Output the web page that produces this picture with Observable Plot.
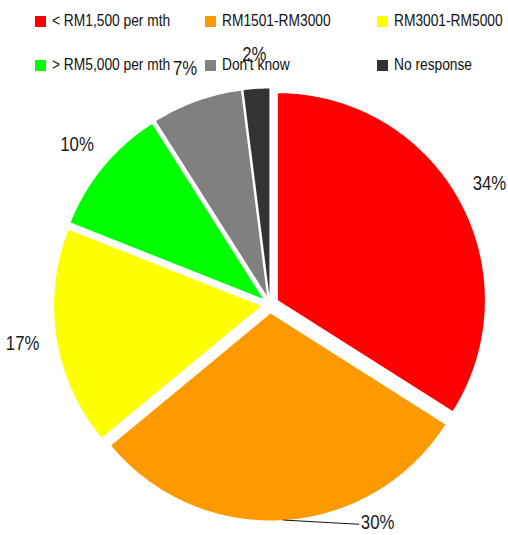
<!DOCTYPE html>
<html>
<head>
<meta charset="utf-8">
<script src="https://cdn.jsdelivr.net/npm/d3@7"></script>
<script src="https://cdn.jsdelivr.net/npm/@observablehq/plot@0.6"></script>
<style>
  html, body { margin: 0; padding: 0; background: #fff; }
  #wrap { position: relative; width: 508px; height: 535px; font-family: "Liberation Sans", Arial, sans-serif; }
  #legend { position: absolute; left: 0; top: 0; width: 508px; height: 80px; }
  .item { position: absolute; display: flex; align-items: center; font-size: 16px; color: #111; white-space: nowrap; }
  .sw { width: 11px; height: 11px; margin-right: 6px; flex: none; }
  .tx { display: inline-block; transform: scaleX(0.86); transform-origin: left center; }
  #chart { position: absolute; left: 0; top: 0; }
</style>
</head>
<body>
<div id="wrap">
  <div id="chart"></div>
  <div id="legend"></div>
</div>
<script>
const categories = ["< RM1,500 per mth", "RM1501-RM3000", "RM3001-RM5000", "> RM5,000 per mth", "Don't know", "No response"];
const values = [34, 30, 17, 10, 7, 2];
const labels = ["34%", "30%", "17%", "10%", "7%", "2%"];
const colors = ["#FF0000", "#FF9900", "#FFFF00", "#00FF00", "#808080", "#333333"];

// layout
const W = 508, H = 535;
const cx = 269.5, cy = 304, R = 207;
const explode = 9 / R;
const labelR = 1.21;
const condense = 0.84;

const total = d3.sum(values);
const slices = [];
let acc = 0;
values.forEach((v, i) => {
  const a0 = acc / total * 2 * Math.PI;
  acc += v;
  const a1 = acc / total * 2 * Math.PI;
  slices.push({cat: categories[i], label: labels[i], a0, a1, mid: (a0 + a1) / 2});
});

const pts = [];
for (const s of slices) {
  const ox = explode * Math.sin(s.mid), oy = -explode * Math.cos(s.mid);
  pts.push({cat: s.cat, x: ox, y: oy});
  const n = Math.max(4, Math.ceil((s.a1 - s.a0) / (Math.PI / 360)));
  for (let k = 0; k <= n; k++) {
    const a = s.a0 + (s.a1 - s.a0) * k / n;
    pts.push({cat: s.cat, x: ox + Math.sin(a), y: oy - Math.cos(a)});
  }
}

// label positions; the bottom slice label is moved aside with a leader line
const moved = {idx: 1, angle: 158 * Math.PI / 180, r: 1.145};
const textMid = slices.filter((s, i) => i !== moved.idx).map(s => ({label: s.label, x: labelR * Math.sin(s.mid), y: -labelR * Math.cos(s.mid)}));
const textSide = [{label: slices[moved.idx].label, x: moved.r * Math.sin(moved.angle) + 0.01, y: -moved.r * Math.cos(moved.angle) - 0.006}];
const ms = slices[moved.idx];
const mox = explode * Math.sin(ms.mid), moy = -explode * Math.cos(ms.mid);
const leader = [
  {x: mox + Math.sin(ms.mid), y: moy - Math.cos(ms.mid)},
  {x: moved.r * Math.sin(moved.angle), y: -moved.r * Math.cos(moved.angle)}
];

const chart = Plot.plot({
  width: W, height: H, margin: 0,
  style: {background: "transparent", fontFamily: '"Liberation Sans", Arial, sans-serif'},
  x: {domain: [-cx / R, (W - cx) / R], range: [0, W], axis: null},
  y: {domain: [-cy / R, (H - cy) / R], range: [0, H], axis: null},
  color: {domain: categories, range: colors},
  marks: [
    Plot.line(pts, {x: "x", y: "y", z: "cat", fill: "cat", stroke: null, curve: "linear-closed"}),
    Plot.line(leader, {x: "x", y: "y", stroke: "#111", strokeWidth: 1}),
    Plot.text(textMid, {x: "x", y: "y", text: "label", textAnchor: "middle", fontSize: 20, fill: "#1a1a1a", className: "plabel"}),
    Plot.text(textSide, {x: "x", y: "y", text: "label", textAnchor: "start", fontSize: 20, fill: "#1a1a1a", className: "plabel"})
  ]
});
// condense the label glyphs horizontally (narrow typeface look)
chart.querySelectorAll("g.plabel text").forEach(t => {
  const tr = t.getAttribute("transform") || "";
  if (tr) {
    t.setAttribute("transform", tr + ` scale(${condense},1)`);
  } else {
    const x = +t.getAttribute("x") || 0, y = +t.getAttribute("y") || 0;
    t.setAttribute("transform", `translate(${x},${y}) scale(${condense},1) translate(${-x},${-y})`);
  }
});
document.getElementById("chart").appendChild(chart);

const legend = document.getElementById("legend");
categories.forEach((c, i) => {
  const col = i % 3, row = Math.floor(i / 3);
  const el = document.createElement("div");
  el.className = "item";
  el.style.left = (35 + [0, 170, 342][col]) + "px";
  el.style.top = (11 + row * 44) + "px";
  el.style.height = "20px";
  const sw = document.createElement("div");
  sw.className = "sw";
  sw.style.background = colors[i];
  const tx = document.createElement("span");
  tx.className = "tx";
  tx.textContent = c;
  el.appendChild(sw); el.appendChild(tx);
  legend.appendChild(el);
});
</script>
</body>
</html>
